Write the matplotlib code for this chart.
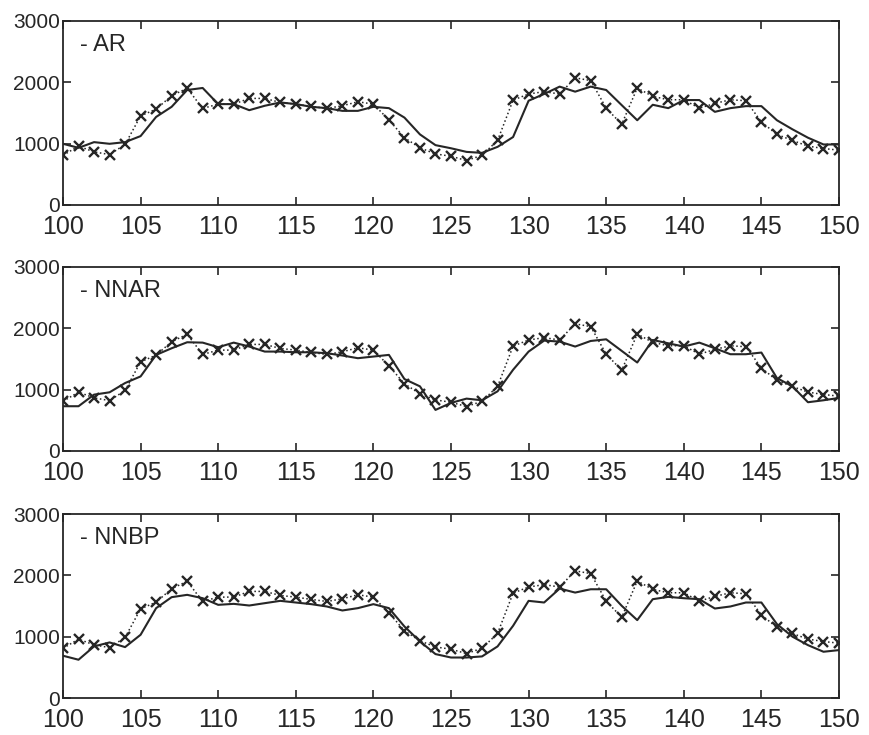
import matplotlib
matplotlib.use('Agg')
import matplotlib.pyplot as plt
import numpy as np

plt.rcParams['font.family'] = ['Liberation Sans', 'DejaVu Sans']

x = np.arange(100, 151)

# measured series (x markers, dotted) - same in every panel
actual = [810, 960, 866, 822, 987, 1453, 1563, 1782, 1903, 1574,
          1645, 1645, 1738, 1738, 1672, 1645, 1607, 1574, 1618, 1683,
          1645, 1387, 1097, 932, 833, 795, 724, 812, 1052, 1710,
          1810, 1848, 1810, 2073, 2029, 1579, 1316, 1908, 1771, 1716,
          1716, 1579, 1656, 1716, 1700, 1354, 1151, 1052, 960, 921,
          894]

# model predictions (solid lines)
ar = [998, 932, 1025, 998, 1025, 1124, 1436, 1601, 1875, 1908,
      1645, 1645, 1546, 1618, 1672, 1645, 1601, 1579, 1535, 1535,
      1601, 1579, 1425, 1151, 976, 925, 866, 850, 948, 1108,
      1700, 1810, 1930, 1848, 1930, 1875, 1628, 1382, 1634, 1579,
      1711, 1711, 1519, 1579, 1612, 1612, 1382, 1234, 1097, 987,
      987]

nnar = [730, 730, 919, 957, 1108, 1216, 1567, 1675, 1773, 1767,
        1692, 1767, 1703, 1621, 1621, 1610, 1610, 1594, 1557, 1513,
        1540, 1567, 1173, 1054, 670, 784, 854, 827, 973, 1324,
        1621, 1800, 1784, 1703, 1794, 1821, 1632, 1443, 1810, 1756,
        1703, 1767, 1675, 1578, 1578, 1605, 1189, 1054, 795, 827,
        865]

nnbp = [689, 624, 841, 906, 830, 1031, 1465, 1644, 1682, 1627,
        1519, 1535, 1508, 1546, 1584, 1557, 1530, 1492, 1427, 1465,
        1530, 1465, 1166, 922, 716, 660, 660, 678, 841, 1177,
        1584, 1557, 1784, 1719, 1773, 1773, 1503, 1270, 1611, 1649,
        1627, 1611, 1459, 1492, 1557, 1557, 1205, 1000, 862, 754,
        781]

labels = ['- AR', '- NNAR', '- NNBP']
models = [ar, nnar, nnbp]
x_ticks = [100, 105, 110, 115, 120, 125, 130, 135, 140, 145, 150]
y_ticks = [0, 1000, 2000, 3000]

ink = '#262626'

fig = plt.figure(figsize=(8.7, 7.35), dpi=100)
tops = [21, 267, 514]
height = 184
for i, (lab, pred) in enumerate(zip(labels, models)):
    top = tops[i]
    ax = fig.add_axes([63 / 870, 1 - (top + height) / 735, 776 / 870, height / 735])
    ax.plot(x, actual, linestyle=':', color=ink, linewidth=1.1,
            marker='x', markersize=7, markeredgewidth=1.7)
    ax.plot(x, pred, linestyle='-', color=ink, linewidth=1.5)
    ax.set_xlim(100, 150)
    ax.set_ylim(0, 3000)
    ax.set_xticks(x_ticks)
    ax.set_yticks(y_ticks)
    ax.tick_params(direction='in', top=True, right=True, length=6, width=1.2,
                   color=ink)
    ax.tick_params(axis='x', labelsize=18, pad=7, labelcolor=ink)
    ax.tick_params(axis='y', labelsize=15, pad=2, labelcolor=ink)
    for s in ax.spines.values():
        s.set_linewidth(1.3)
        s.set_color(ink)
    ax.text(0.022, 0.93, lab, transform=ax.transAxes, va='top', ha='left',
            fontsize=17, color=ink)

fig.savefig('out.png', dpi=100)
